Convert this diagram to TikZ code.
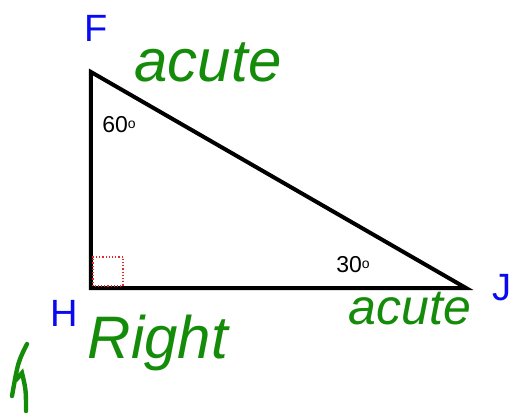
\documentclass[tikz,border=0pt]{standalone}
\usepackage{fontspec}
\setmainfont{Liberation Sans}
\usetikzlibrary{positioning}
\definecolor{lblblue}{RGB}{10, 10, 240}
\definecolor{penGreen}{RGB}{20, 140, 10}
\definecolor{sqred}{RGB}{230, 40, 40}

\begin{document}
\begin{tikzpicture}[x=0.5pt, y=-0.5pt,
    vertex/.style={text=lblblue, font=\fontsize{19}{19}\selectfont},
    angle/.style={font=\fontsize{11.5}{12}\selectfont},
    pen/.style={text=penGreen, font=\fontsize{#1}{#1}\selectfont\itshape}]
    \useasboundingbox (0,0) rectangle (511,414);
    % triangle
    \coordinate (f) at (91,72);
    \coordinate (h) at (91,288);
    \coordinate (j) at (466,288);
    \draw[line width=2pt, line join=miter] (f) -- (h) -- (j) -- cycle;
    \draw[sqred, densely dotted, line width=0.6pt] (93,286) rectangle (123,257);
    % vertex labels
    \node[vertex] (lf) at (96,28) {F};
    \node[vertex] (lh) at (64,313) {H};
    \node[vertex] (lj) at (502,288) {J};
    % angles
    \node[angle] (a60) at (119,125) {60\raisebox{0.35ex}{\fontsize{7}{7}\selectfont o}};
    \node[angle] (a30) at (353,265) {30\raisebox{0.35ex}{\fontsize{7}{7}\selectfont o}};
    % handwriting
    \node[pen=30] (acutetop) at (208,62) {acute};
    \node[pen=25] (acutebot) at (410,309) {acute};
    \node[pen=30] (right) at (158,343) {Right};
    \draw[penGreen, line width=2.2pt, line cap=round]
        (27,344) .. controls (18,362) .. (12,396)
        (16,380) -- (22,373) .. controls (26,390) .. (26,411);
  \end{tikzpicture}
\end{document}
